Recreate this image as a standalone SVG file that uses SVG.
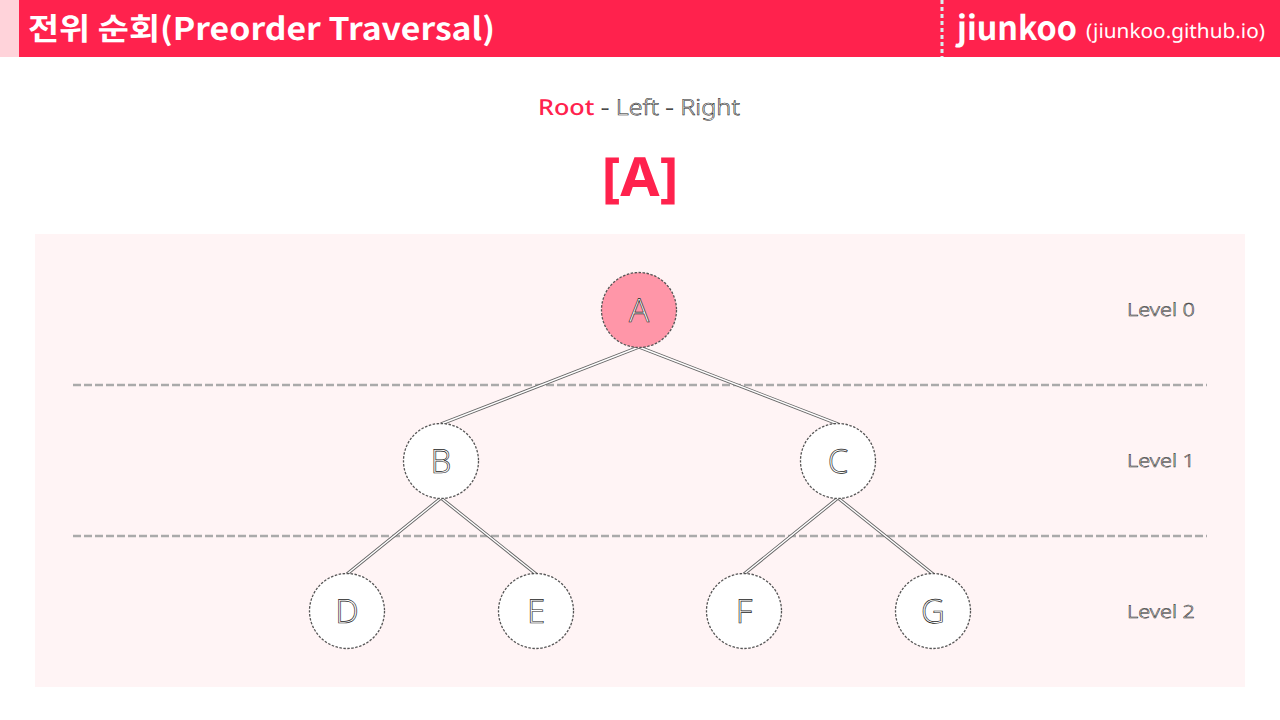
<svg xmlns="http://www.w3.org/2000/svg" width="1280" height="720" viewBox="0 0 1280 720">
<style>
.ttl{font-family:"Noto Sans CJK KR","Noto Sans",sans-serif;font-weight:700;fill:#ffffff}
.out{font-family:"Noto Sans","Noto Sans CJK KR",sans-serif;font-weight:300;fill:#ffffff;stroke:#222222;stroke-width:0.55}
.node circle{fill:#ffffff;stroke:#555555;stroke-width:1.3;stroke-dasharray:2.5 1.5}
.node text{font-family:"Noto Sans",sans-serif;font-weight:300;font-size:33px;text-anchor:middle;fill:#ffffff;stroke:#222222;stroke-width:0.65}
.lvl{font-family:"Noto Sans",sans-serif;font-weight:300;font-size:18px;fill:#ffffff;stroke:#222222;stroke-width:0.5}
.edge-o{stroke:#666666;stroke-width:3.2;fill:none}
.edge-i{stroke:#ffffff;stroke-width:1.4;fill:none}
.sep{stroke:#aaaaaa;stroke-width:2.5;stroke-dasharray:8 3}
text{text-rendering:geometricPrecision}
</style>
<rect width="1280" height="720" fill="#ffffff"/>
<g id="header">
<rect x="0" y="0" width="19" height="57" fill="#ffd3da"/>
<rect x="19" y="0" width="1261" height="57" fill="#ff224d"/>
<line x1="942" y1="0" x2="942" y2="57" stroke="#d8eeee" stroke-width="3" stroke-dasharray="4 3"/>
<text class="ttl" x="28" y="40" font-size="31" textLength="467" lengthAdjust="spacingAndGlyphs">전위 순회(Preorder Traversal)</text>
<text class="ttl" x="957" y="40" font-size="33" textLength="120" lengthAdjust="spacingAndGlyphs">jiunkoo</text>
<text x="1086" y="38" font-size="20" font-family="Noto Sans,sans-serif" fill="#ffffff" textLength="179" lengthAdjust="spacingAndGlyphs">(jiunkoo.github.io)</text>
</g>
<g id="subtitle">
<text x="538" y="115" font-size="22" font-family="Noto Sans,sans-serif" textLength="202" lengthAdjust="spacingAndGlyphs"><tspan fill="#ff224d" font-weight="500">Root</tspan><tspan class="out"> - Left - Right</tspan></text>
<text x="640" y="196" font-size="54" font-weight="700" font-family="Noto Sans,sans-serif" fill="#ff224d" text-anchor="middle" textLength="77" lengthAdjust="spacingAndGlyphs">[A]</text>
</g>
<rect id="panel" x="35" y="234" width="1210" height="453" fill="#fff4f5"/>
<g id="separators">
<line class="sep" x1="73" y1="385" x2="1207" y2="385"/>
<line class="sep" x1="73" y1="536" x2="1207" y2="536"/>
</g>
<g id="connectors">
<path class="edge-o" d="M639 347 L441 424 M639 347 L838 424 M441 498 L347 574 M441 498 L536 574 M838 498 L744 574 M838 498 L933 574"/>
<path class="edge-i" d="M639 347 L441 424 M639 347 L838 424 M441 498 L347 574 M441 498 L536 574 M838 498 L744 574 M838 498 L933 574"/>
</g>
<g id="node-A" class="node"><circle cx="639" cy="310" r="37.5" style="fill:#ff96a8"/><text x="639" y="322">A</text></g>
<g id="node-B" class="node"><circle cx="441" cy="461" r="37.5"/><text x="441" y="473">B</text></g>
<g id="node-C" class="node"><circle cx="838" cy="461" r="37.5"/><text x="838" y="473">C</text></g>
<g id="node-D" class="node"><circle cx="347" cy="611" r="37.5"/><text x="347" y="623">D</text></g>
<g id="node-E" class="node"><circle cx="536" cy="611" r="37.5"/><text x="536" y="623">E</text></g>
<g id="node-F" class="node"><circle cx="744" cy="611" r="37.5"/><text x="744" y="623">F</text></g>
<g id="node-G" class="node"><circle cx="933" cy="611" r="37.5"/><text x="933" y="623">G</text></g>
<g id="levels">
<text class="lvl" x="1127" y="316" textLength="68" lengthAdjust="spacingAndGlyphs">Level 0</text>
<text class="lvl" x="1127" y="467" textLength="68" lengthAdjust="spacingAndGlyphs">Level 1</text>
<text class="lvl" x="1127" y="618" textLength="68" lengthAdjust="spacingAndGlyphs">Level 2</text>
</g>
</svg>
